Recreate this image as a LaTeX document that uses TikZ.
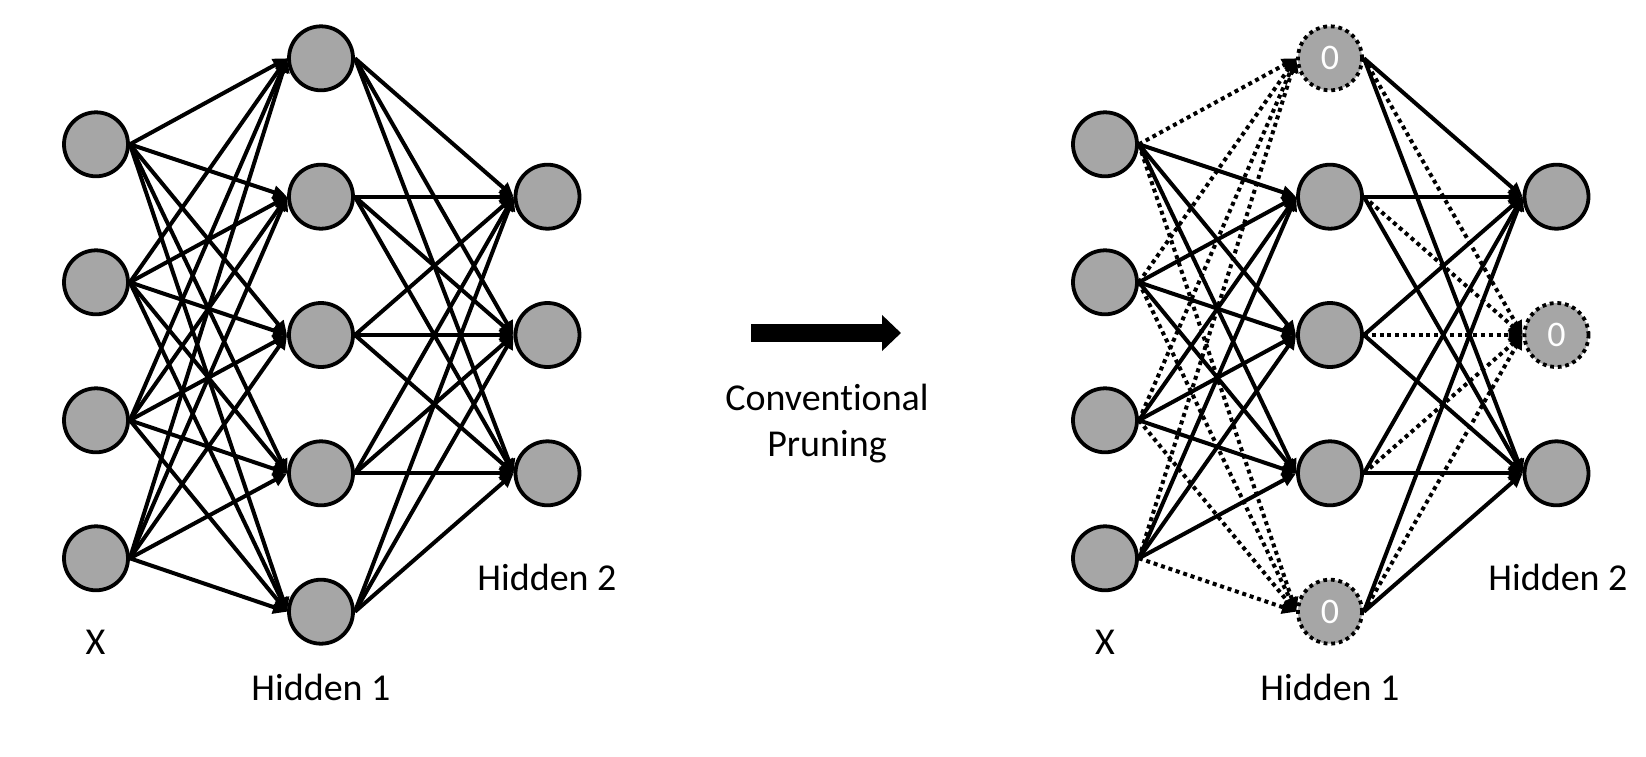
\documentclass[tikz,border=0pt]{standalone}
\usepackage{fontspec}
\setmainfont{Carlito}[Ligatures=NoCommon]
\usetikzlibrary{arrows.meta,backgrounds}
\definecolor{nodegray}{HTML}{A6A6A6}
\begin{document}
\begin{tikzpicture}[x=0.5pt,y=-0.5pt,
  neuron/.style={circle,draw,line width=1.9pt,fill=nodegray,minimum size=32pt,inner sep=0pt},
  pruned/.style={neuron,dash pattern=on 1.9pt off 1.9pt,text=white,font=\fontsize{18}{20}\selectfont},
  edge/.style={line width=2pt,-{Triangle[length=7pt,width=6.5pt]}},
  cut/.style={edge,dash pattern=on 2pt off 1.9pt},
  lbl/.style={font=\fontsize{19}{23}\selectfont,inner sep=0pt}]
\useasboundingbox (0,0) rectangle (1646,756);
% left network
\foreach \i/\y in {1/144.3,2/282.3,3/420.3,4/558.3}
  \node[neuron] (li\i) at (96,\y) {};
\foreach \j/\y in {1/58.3,2/196.7,3/335,4/473.3,5/611.7}
  \node[neuron] (lh\j) at (321,\y) {};
\foreach \k/\y in {1/196.7,2/335,3/473.3}
  \node[neuron] (lo\k) at (547.5,\y) {};
% right network
\foreach \i/\y in {1/144.3,2/282.3,3/420.3,4/558.3}
  \node[neuron] (ri\i) at (1105,\y) {};
\node[pruned] (rh1) at (1330,58.3) {0};
\foreach \j/\y in {2/196.7,3/335,4/473.3}
  \node[neuron] (rh\j) at (1330,\y) {};
\node[pruned] (rh5) at (1330,611.7) {0};
\node[neuron] (ro1) at (1556.5,196.7) {};
\node[pruned] (ro2) at (1556.5,335) {0};
\node[neuron] (ro3) at (1556.5,473.3) {};
\begin{scope}[on background layer]
\foreach \i in {1,...,4}
  \foreach \j in {1,...,5}
    \draw[edge] (li\i.east) -- (lh\j.west);
\foreach \j in {1,...,5}
  \foreach \k in {1,...,3}
    \draw[edge] (lh\j.east) -- (lo\k.west);
\foreach \i in {1,...,4} {
  \draw[cut] (ri\i.east) -- (rh1.west);
  \draw[cut] (ri\i.east) -- (rh5.west);
  \foreach \j in {2,3,4}
    \draw[edge] (ri\i.east) -- (rh\j.west);
}
\foreach \j in {1,...,5} {
  \draw[edge] (rh\j.east) -- (ro1.west);
  \draw[cut] (rh\j.east) -- (ro2.west);
  \draw[edge] (rh\j.east) -- (ro3.west);
}
\end{scope}
% labels
\node[lbl] (lx) at (95.5,642) {X};
\node[lbl] (lhl1) at (321,687.6) {Hidden 1};
\node[lbl] (lhl2) at (547,577) {Hidden 2};
\node[lbl] (rx) at (1105,642) {X};
\node[lbl] (rhl1) at (1330,687.6) {Hidden 1};
\node[lbl] (rhl2) at (1558,577) {Hidden 2};
% central arrow
\coordinate (as) at (751,333);
\coordinate (ae) at (901,333);
\draw[line width=9pt,-{Triangle[length=9.5pt,width=17.5pt]}] (as) -- (ae);
\node[lbl,align=center] (conv) at (827,424) {Convent\kern0pt ional\\Pruning};
\end{tikzpicture}
\end{document}
